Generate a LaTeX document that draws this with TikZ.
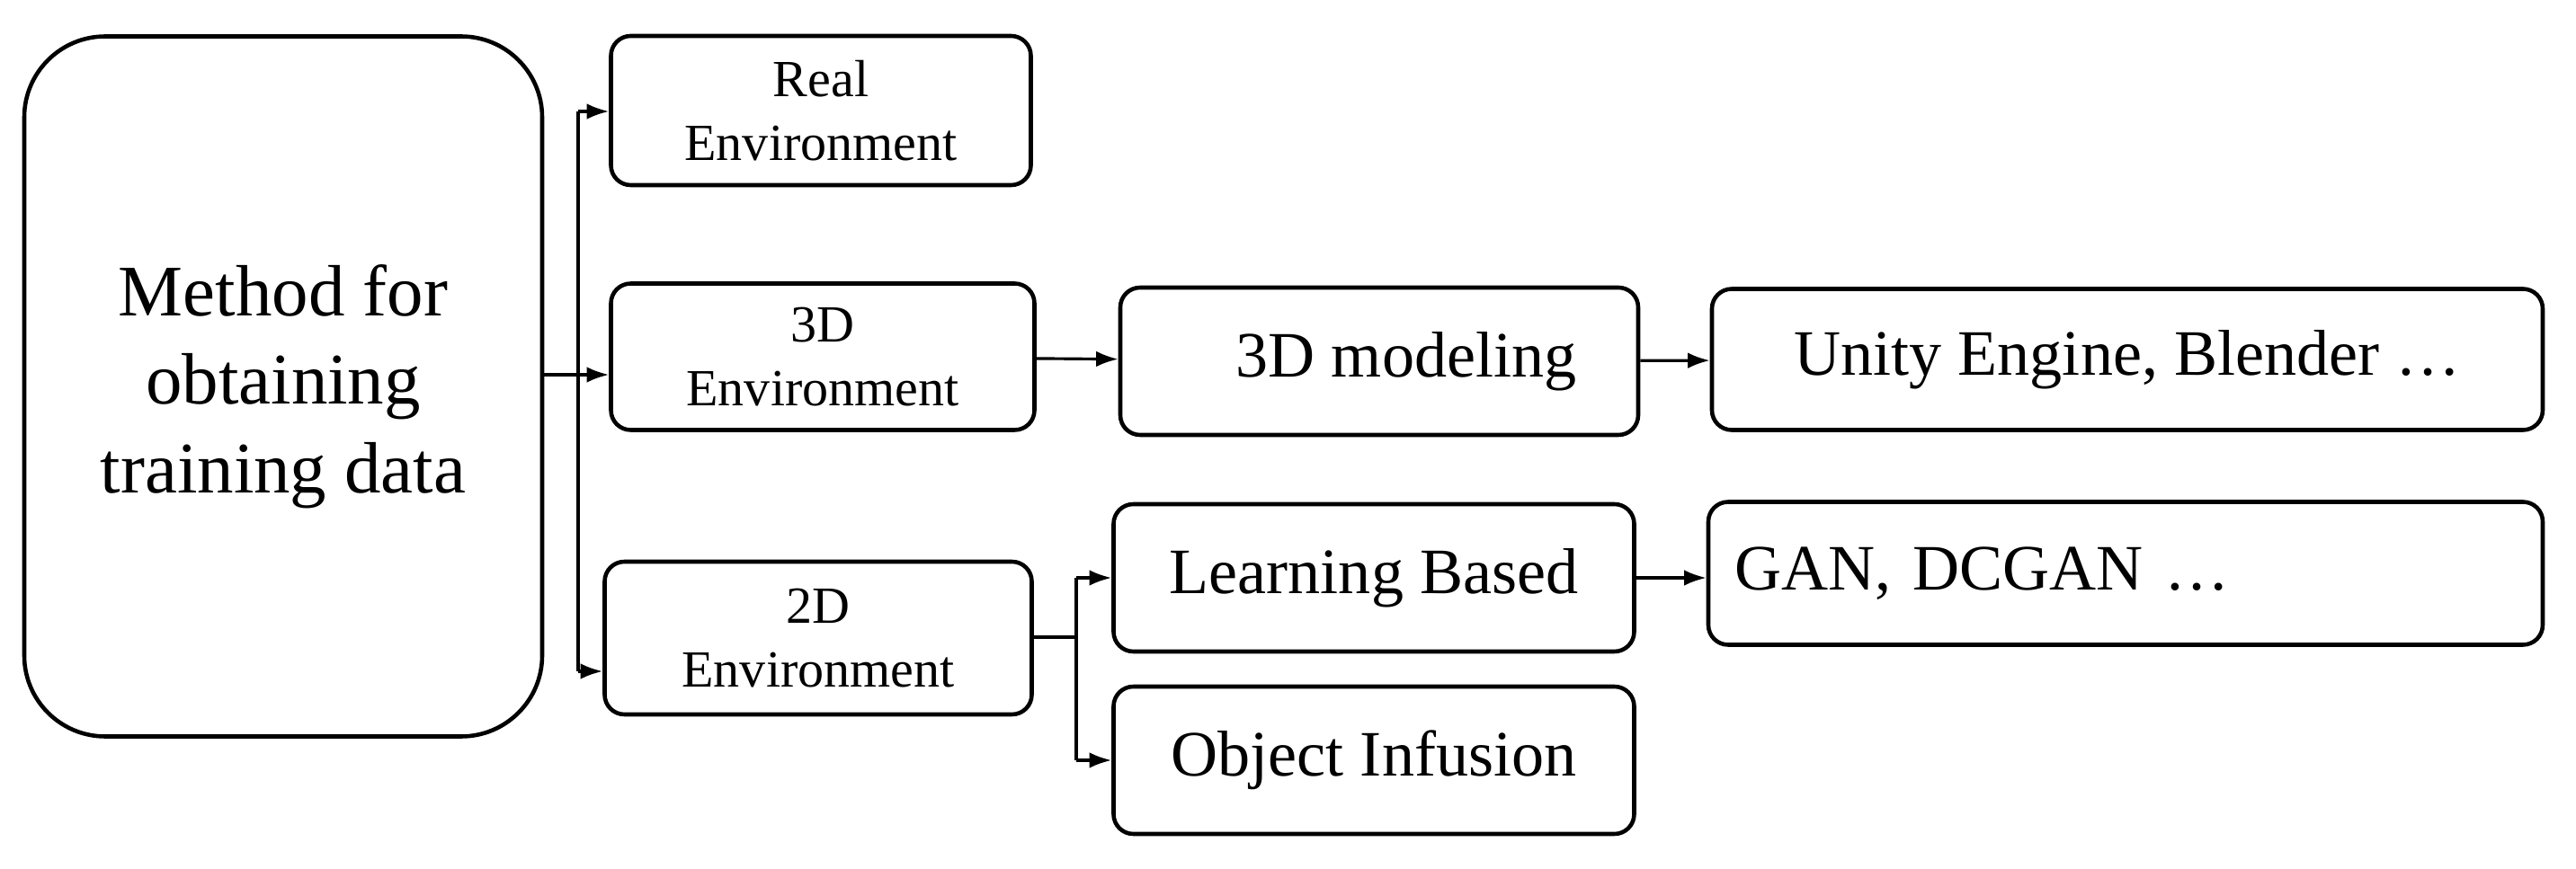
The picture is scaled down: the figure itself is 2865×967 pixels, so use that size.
\documentclass[tikz,border=0pt]{standalone}
\usepackage{fontspec}
\setmainfont{Liberation Serif}
\usetikzlibrary{arrows.meta}
\begin{document}
\begin{tikzpicture}[x=0.01cm,y=-0.01cm,
  box/.style={draw,line width=1.3pt,rounded corners=0.22cm,align=center,inner sep=0pt},
  sm/.style={box,font=\fontsize{16.5}{20}\selectfont},
  lg/.style={box,font=\fontsize{20.5}{24}\selectfont},
  arr/.style={line width=0.9pt,-{Latex[length=7pt,width=5pt]}},
  ln/.style={line width=0.9pt}]
\useasboundingbox (0,0) rectangle (2865,967);
\node[box,rounded corners=0.9cm,minimum width=576*0.01cm,minimum height=779*0.01cm,font=\fontsize{23}{28}\selectfont] (m) at (315,430) {Method for\\obtaining\\training data};
\node[sm,minimum width=467*0.01cm,minimum height=166*0.01cm] (r) at (913,123) {Real\\Environment};
\node[sm,minimum width=471*0.01cm,minimum height=163*0.01cm] (e3) at (915,397) {3D\\Environment};
\node[sm,minimum width=475*0.01cm,minimum height=170*0.01cm] (e2) at (910,710) {2D\\Environment};
\node[lg,minimum width=576*0.01cm,minimum height=164*0.01cm] (mod) at (1534,402) {\hspace*{0.6cm}3D modeling};
\node[lg,minimum width=924*0.01cm,minimum height=157*0.01cm] (u) at (2366,400) {Unity Engine, Blender …};
\node[lg,minimum width=579*0.01cm,minimum height=164*0.01cm] (lb) at (1528,643) {Learning Based};
\node[lg,minimum width=928*0.01cm,minimum height=159*0.01cm,text width=870*0.01cm,align=left] (g) at (2364,638) {GAN, DCGAN …};
\node[lg,minimum width=579*0.01cm,minimum height=164*0.01cm] (oi) at (1528,846) {Object Infusion};
\coordinate (t) at (643,417);
\draw[ln] (m.east|-t) -- (t);
\draw[ln] (643,124) -- (643,747);
\draw[arr] (643,124) -- (r.west|-0,124);
\draw[arr] (t) -- (e3.west|-t);
\draw[arr] (643,747) -- (e2.west|-0,747);
\draw[arr] (e3) -- (mod);
\draw[arr] (mod) -- (u);
\draw[arr] (lb) -- (g.west|-lb);
\coordinate (b) at (1197,709);
\draw[ln] (e2.east|-b) -- (b);
\draw[ln] (1197,643) -- (1197,846);
\draw[arr] (1197,643) -- (lb);
\draw[arr] (1197,846) -- (oi);
\end{tikzpicture}
\end{document}
